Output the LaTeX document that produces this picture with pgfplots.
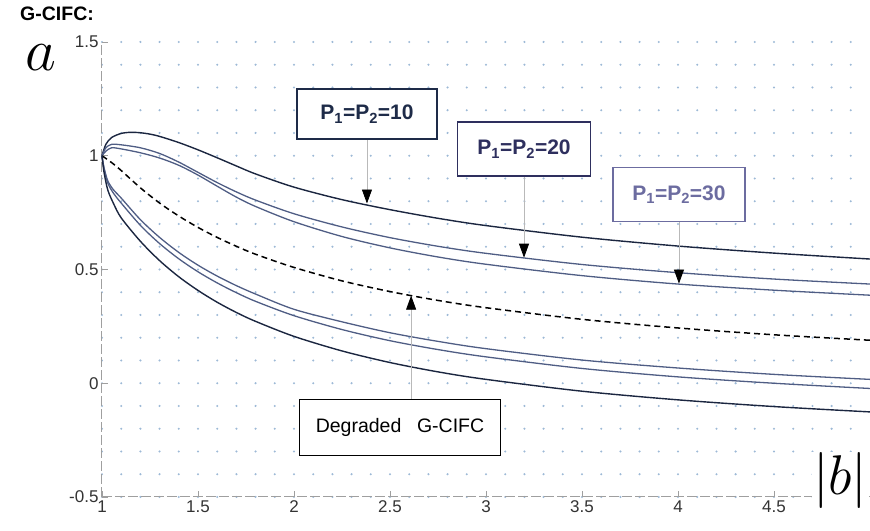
\RequirePackage{fix-cm}
\documentclass[border=0pt]{standalone}
\usepackage{pgfplots}
\pgfplotsset{compat=1.18}
\usepackage{fontspec}
\setmainfont{Liberation Sans}
\usetikzlibrary{arrows.meta}
\definecolor{navyA}{HTML}{1B2640}
\definecolor{slateB}{HTML}{4F5D84}
\definecolor{gridblue}{HTML}{9DB9D6}
\definecolor{box10}{HTML}{1E2B48}
\definecolor{box20}{HTML}{2E2F5E}
\definecolor{box30}{HTML}{6C6CA0}
\begin{document}
\begin{tikzpicture}
\begin{axis}[
  scale only axis, width=768pt, height=455pt,
  xmin=1, xmax=5, ymin=-0.5, ymax=1.5,
  axis x line*=bottom, axis y line*=left,
  axis line style={draw=gray!75, line width=1pt, dash pattern=on 10pt off 3pt},
  xtick={1,1.5,2,2.5,3,3.5,4,4.5},
  ytick={-0.5,0,0.5,1,1.5},
  minor x tick num=4, minor y tick num=4,
  minor tick length=0pt, major tick length=6pt, tick align=inside,
  tick style={draw=gray!75, line width=0.8pt, solid},
  ymajorgrids, yminorgrids,
  major grid style={draw=gridblue, line width=2.3pt, line cap=round, dash pattern=on 0pt off 19.2pt},
  minor grid style={draw=gridblue, line width=2.3pt, line cap=round, dash pattern=on 0pt off 19.2pt},
  /pgf/number format/assume math mode=true,
  tick label style={font=\fontsize{17}{19}\selectfont, text=black!80},
  clip=false,
]
% top curve (dark)
\addplot[navyA, line width=1.4pt, smooth] coordinates {
(1,1.0) (1.02,1.05) (1.05,1.08) (1.1,1.098) (1.15,1.103) (1.2,1.101) (1.25,1.095) (1.3,1.085) (1.4,1.058) (1.5,1.026) (1.6,0.991) (1.7,0.955) (1.8,0.92) (2.0,0.862) (2.25,0.807) (2.5,0.763) (2.75,0.725) (3,0.693) (3.5,0.642) (4,0.603) (4.5,0.572) (5,0.546)};
% second
\addplot[slateB, line width=1.3pt, smooth] coordinates {
(1,1.0) (1.02,1.035) (1.05,1.05) (1.1,1.048) (1.2,1.035) (1.3,1.01) (1.4,0.972) (1.5,0.927) (1.6,0.882) (1.7,0.841) (1.8,0.805) (2.0,0.745) (2.25,0.687) (2.5,0.64) (2.75,0.602) (3.0,0.571) (3.5,0.522) (4.0,0.486) (4.5,0.458) (5.0,0.436)};
% third
\addplot[slateB, line width=1.3pt, smooth] coordinates {
(1,1.0) (1.02,1.02) (1.05,1.035) (1.1,1.03) (1.2,1.013) (1.3,0.99) (1.4,0.958) (1.5,0.915) (1.6,0.866) (1.7,0.818) (1.8,0.777) (2.0,0.71) (2.25,0.645) (2.5,0.595) (2.75,0.555) (3.0,0.523) (3.5,0.473) (4.0,0.436) (4.5,0.409) (5.0,0.387)};
% dashed degraded
\addplot[black, line width=1.5pt, dash pattern=on 6pt off 4pt, smooth] coordinates {
(1,1.0) (1.05,0.97) (1.1,0.935) (1.2,0.859) (1.3,0.792) (1.4,0.735) (1.5,0.685) (1.6,0.641) (1.7,0.602) (1.8,0.567) (2.0,0.509) (2.25,0.45) (2.5,0.403) (2.75,0.364) (3.0,0.332) (3.5,0.281) (4.0,0.243) (4.5,0.213) (5.0,0.189)};
% lower curves
\addplot[slateB, line width=1.3pt, smooth] coordinates {
(1,1) (1.01,0.95) (1.03,0.89) (1.06,0.85) (1.1,0.814) (1.2,0.719) (1.3,0.641) (1.4,0.575) (1.5,0.519) (1.6,0.471) (1.7,0.429) (1.8,0.392) (2.0,0.325) (2.25,0.27) (2.5,0.222) (2.75,0.184) (3.0,0.152) (3.5,0.102) (4.0,0.067) (4.5,0.039) (5.0,0.017)};
\addplot[slateB, line width=1.3pt, smooth] coordinates {
(1,1) (1.01,0.945) (1.03,0.88) (1.06,0.835) (1.1,0.792) (1.2,0.694) (1.3,0.614) (1.4,0.547) (1.5,0.49) (1.6,0.441) (1.7,0.398) (1.8,0.36) (2.0,0.297) (2.25,0.236) (2.5,0.187) (2.75,0.148) (3.0,0.116) (3.5,0.065) (4.0,0.028) (4.5,0.0) (5.0,-0.023)};
\addplot[navyA, line width=1.4pt, smooth] coordinates {
(1,1) (1.01,0.93) (1.03,0.85) (1.06,0.79) (1.1,0.727) (1.2,0.624) (1.3,0.539) (1.4,0.468) (1.5,0.408) (1.6,0.356) (1.7,0.311) (1.8,0.272) (2.0,0.206) (2.25,0.142) (2.5,0.091) (2.75,0.05) (3.0,0.017) (3.5,-0.035) (4.0,-0.073) (4.5,-0.1025) (5.0,-0.126)};

% annotations
\draw[gray!55, line width=0.8pt, -{Triangle[width=10pt,length=14pt,color=black]}] (axis cs:2.38,1.073) -- (axis cs:2.38,0.79);
\draw[gray!55, line width=0.8pt, -{Triangle[width=10pt,length=14pt,color=black]}] (axis cs:3.198,0.909) -- (axis cs:3.198,0.552);
\draw[gray!55, line width=0.8pt, -{Triangle[width=10pt,length=14pt,color=black]}] (axis cs:4.005,0.711) -- (axis cs:4.005,0.438);
\draw[gray!55, line width=0.8pt, -{Triangle[width=10pt,length=14pt,color=black]}] (axis cs:2.61,-0.071) -- (axis cs:2.61,0.385);

\node[draw=box10, line width=1.4pt, fill=white, minimum width=140pt, minimum height=50pt, text=box10, font=\bfseries\fontsize{21}{23}\selectfont] at (axis cs:2.38,1.183) {P\textsubscript{1}=P\textsubscript{2}=10};
\node[draw=box20, line width=1.4pt, fill=white, minimum width=133pt, minimum height=54pt, text=box20, font=\bfseries\fontsize{21}{23}\selectfont] at (axis cs:3.198,1.029) {P\textsubscript{1}=P\textsubscript{2}=20};
\node[draw=box30, line width=1.4pt, fill=white, minimum width=132pt, minimum height=54pt, text=box30, font=\bfseries\fontsize{21}{23}\selectfont] at (axis cs:4.005,0.830) {P\textsubscript{1}=P\textsubscript{2}=30};
\node[draw=black, line width=1.4pt, fill=white, minimum width=201pt, minimum height=56pt, font=\fontsize{19.5}{22}\selectfont] at (axis cs:2.552,-0.194) {Degraded\hspace{0.8em}G-CIFC};

% axis name labels
\node[fill=white, inner sep=1pt, font=\fontsize{56}{58}\selectfont] at (axis cs:4.845,-0.428) {$|b|$};
\node[font=\fontsize{60}{62}\selectfont] at (axis cs:0.68,1.43) {$a$};
\node[anchor=north west, inner sep=0pt, font=\bfseries\fontsize{19.5}{21}\selectfont] at (axis cs:0.573,1.656) {G-CIFC:};
\end{axis}
\pgfresetboundingbox
\path ([xshift=-102pt,yshift=-34pt]current axis.south west) rectangle ([yshift=42pt]current axis.north east);
\end{tikzpicture}
\end{document}
